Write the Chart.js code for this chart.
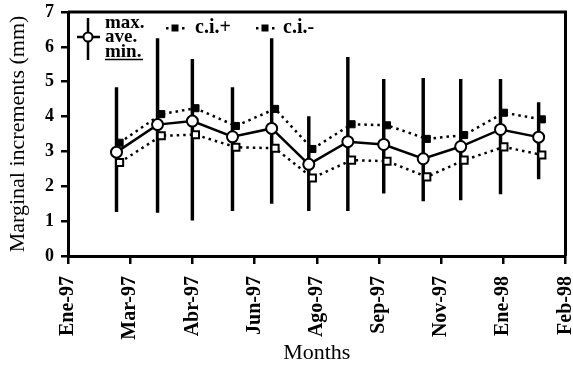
<!DOCTYPE html>
<html><head><meta charset="utf-8">
<script src="https://cdn.jsdelivr.net/npm/chart.js@4/dist/chart.umd.min.js"></script>
<style>html,body{margin:0;padding:0;background:#fff}#wrap{width:573px;height:372px}</style>
</head><body><div id="wrap"><canvas id="c" width="573" height="372"></canvas></div>
<script>
// ---- data ----
const tickLabels = ['Ene-97','Mar-97','Abr-97','Jun-97','Ago-97','Sep-97','Nov-97','Ene-98','Feb-98'];
// sample positions along the month axis (in tick-interval units)
const monthPos = [0.78,1.44,2.0,2.645,3.275,3.872,4.5,5.077,5.712,6.315,6.955,7.568];
const ciPos    = [0.83,1.50,2.05,2.70,3.33,3.93,4.56,5.13,5.77,6.37,7.01,7.62];
const aveVals  = [2.98,3.77,3.87,3.42,3.66,2.63,3.28,3.20,2.79,3.14,3.63,3.41];
const maxVals  = [4.83,6.24,5.64,4.83,6.24,4.00,5.70,5.07,5.10,5.07,5.07,4.40];
const minVals  = [1.27,1.25,1.03,1.30,1.51,1.30,1.30,1.80,1.58,1.61,1.78,2.21];
const ciPlus   = [3.25,4.07,4.24,3.73,4.22,3.07,3.78,3.75,3.36,3.47,4.11,3.92];
const ciMinus  = [2.68,3.45,3.48,3.12,3.09,2.24,2.75,2.72,2.27,2.75,3.13,2.90];

const SERIF = '"Liberation Serif", "Times New Roman", serif';

const framePlugin = {
  id: 'frame',
  afterDatasetsDraw(chart) {
    const {ctx, chartArea: a} = chart;
    ctx.save();
    ctx.strokeStyle = '#000';
    ctx.lineWidth = 3;
    ctx.beginPath();
    ctx.moveTo(a.left, a.top);
    ctx.lineTo(a.right, a.top);
    ctx.lineTo(a.right, a.bottom);
    ctx.stroke();
    ctx.restore();
  }
};

const legendPlugin = {
  id: 'customLegend',
  afterDraw(chart) {
    const ctx = chart.ctx;
    ctx.save();
    ctx.strokeStyle = '#000';
    ctx.fillStyle = '#000';
    // error-bar + average symbol
    ctx.lineWidth = 2.5;
    ctx.beginPath();
    ctx.moveTo(88, 18); ctx.lineTo(88, 60);
    ctx.moveTo(77, 37); ctx.lineTo(100, 37);
    ctx.stroke();
    ctx.beginPath();
    ctx.arc(88, 37, 4.5, 0, Math.PI * 2);
    ctx.fillStyle = '#fff'; ctx.fill();
    ctx.lineWidth = 2; ctx.stroke();
    ctx.fillStyle = '#000';
    ctx.font = 'bold 19px ' + SERIF;
    ctx.textBaseline = 'alphabetic';
    ctx.textAlign = 'left';
    ctx.fillText('max.', 105, 28);
    ctx.fillText('ave.', 105, 42);
    ctx.fillText('min.', 105, 57);
    ctx.lineWidth = 1.5;
    ctx.beginPath(); ctx.moveTo(105, 59.5); ctx.lineTo(143, 59.5); ctx.stroke();
    // c.i. symbols
    function ciSym(cx, cy) {
      ctx.fillRect(cx - 9, cy - 1, 2.5, 2.5);
      ctx.fillRect(cx + 7, cy - 1, 2.5, 2.5);
      ctx.fillRect(cx - 3.5, cy - 3.5, 7, 7);
    }
    ciSym(175, 28);
    ciSym(265, 28);
    ctx.font = 'bold 20px ' + SERIF;
    ctx.fillText('c.i.+', 195, 33);
    ctx.fillText('c.i.-', 283, 33);
    ctx.restore();
  }
};

new Chart(document.getElementById('c'), {
  type: 'bar',
  data: {
    datasets: [
      {
        type: 'line', label: 'ave.',
        data: monthPos.map((x, i) => ({x, y: aveVals[i]})),
        borderColor: '#000', borderWidth: 2.5,
        pointRadius: 5.5, pointBackgroundColor: '#fff', pointBorderColor: '#000', pointBorderWidth: 2,
        order: 0
      },
      {
        type: 'line', label: 'c.i.+',
        data: ciPos.map((x, i) => ({x, y: ciPlus[i]})),
        borderColor: '#000', borderWidth: 2.5, borderDash: [2.5, 4],
        pointStyle: 'rect', pointRadius: 5, pointBackgroundColor: '#000', pointBorderColor: '#000', pointBorderWidth: 1,
        order: 1
      },
      {
        type: 'line', label: 'c.i.-',
        data: ciPos.map((x, i) => ({x, y: ciMinus[i]})),
        borderColor: '#000', borderWidth: 2.5, borderDash: [2.5, 4],
        pointStyle: 'rect', pointRadius: 5, pointBackgroundColor: '#fff', pointBorderColor: '#000', pointBorderWidth: 2,
        order: 2
      },
      {
        type: 'bar', label: 'max./min.',
        data: monthPos.map((x, i) => ({x, y: [minVals[i], maxVals[i]]})),
        backgroundColor: '#000', borderWidth: 0, barThickness: 2.8,
        order: 3
      }
    ]
  },
  options: {
    responsive: false,
    animation: false,
    events: [],
    devicePixelRatio: 1,
    layout: { padding: { top: 12, right: 5, left: 0, bottom: 0 } },
    plugins: { legend: { display: false }, tooltip: { enabled: false } },
    scales: {
      x: {
        type: 'linear', min: 0, max: 8, offset: false,
        grid: { display: true, drawOnChartArea: false, drawTicks: true, tickLength: 8, lineWidth: 2.5, color: '#000', offset: false },
        border: { display: true, color: '#000', width: 3 },
        ticks: {
          stepSize: 1, autoSkip: false, maxRotation: 90, minRotation: 90, padding: 12, color: '#000',
          font: { family: SERIF, size: 20, weight: 'bold' },
          callback: (v) => tickLabels[v] !== undefined ? tickLabels[v] : ''
        },
        title: { display: true, text: 'Months', color: '#000', font: { family: SERIF, size: 22 }, padding: { top: 0, bottom: 6 } },
        afterFit(s) { s.height = 116; s.paddingLeft = 0; s.paddingRight = 0; }
      },
      y: {
        min: 0, max: 7,
        grid: { display: true, drawOnChartArea: false, tickLength: 7, lineWidth: 2.5, color: '#000' },
        border: { display: true, color: '#000', width: 3 },
        ticks: { stepSize: 1, padding: 7, color: '#000', font: { family: SERIF, size: 18, weight: 'bold' } },
        title: { display: true, text: 'Marginal increments (mm)', color: '#000', font: { family: SERIF, size: 22 }, padding: { top: 5, bottom: 0 } },
        afterFit(s) { s.width = 68; s.paddingTop = 0; s.paddingBottom = 0; }
      }
    }
  },
  plugins: [framePlugin, legendPlugin]
});
</script>
</body></html>
